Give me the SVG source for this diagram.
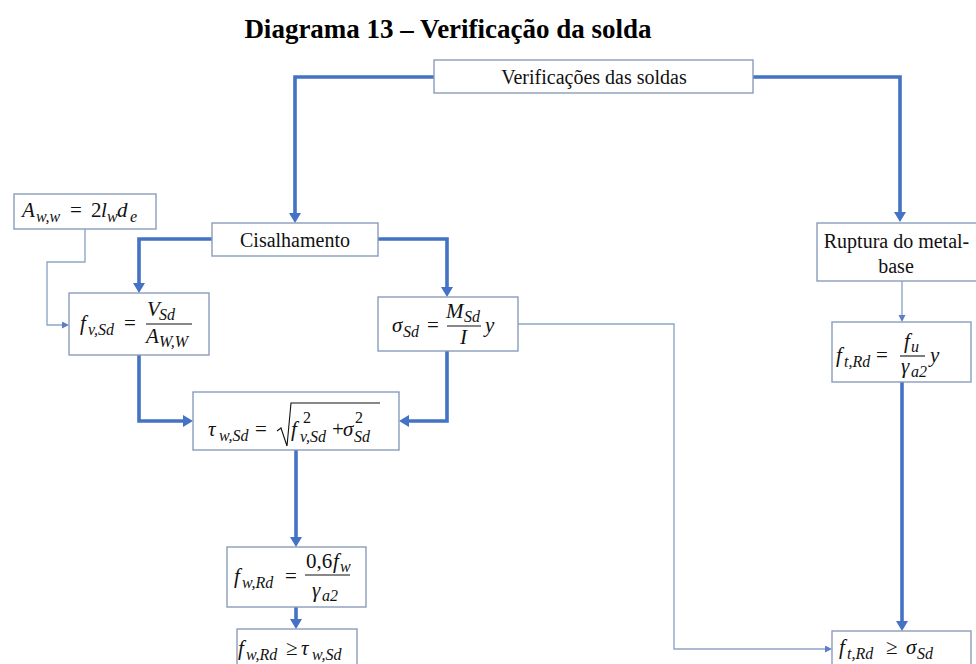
<svg xmlns="http://www.w3.org/2000/svg" width="976" height="664" viewBox="0 0 976 664">
  <defs>
    <marker id="arrow-thick" markerUnits="userSpaceOnUse" markerWidth="11" markerHeight="12" refX="3" refY="6" orient="auto">
      <path d="M0,0 L10,6 L0,12 z" fill="#4472C4"/>
    </marker>
    <marker id="arrow-thin" markerUnits="userSpaceOnUse" markerWidth="8" markerHeight="8" refX="2" refY="3.5" orient="auto">
      <path d="M0,0 L7,3.5 L0,7 z" fill="#5b7fc4"/>
    </marker>
    <style>
      .box { fill: #ffffff; stroke: #8a9cba; stroke-width: 1.4; }
      .thick { fill: none; stroke: #4472C4; stroke-width: 3.6; marker-end: url(#arrow-thick); }
      .thin { fill: none; stroke: #8fa6c8; stroke-width: 1.4; marker-end: url(#arrow-thin); }
      .label { font-family: "Liberation Serif", "DejaVu Serif", serif; font-size: 20px; fill: #111; }
      .math { font-family: "Liberation Serif", "DejaVu Serif", serif; font-size: 21px; font-style: italic; fill: #111; }
      .up { font-style: normal; }
      .sub { font-size: 16px; }
      .bar { stroke: #111; stroke-width: 1.1; fill: none; }
      .title { font-family: "Liberation Serif", "DejaVu Serif", serif; font-size: 27px; font-weight: bold; fill: #000; }
    </style>
  </defs>

  <rect width="976" height="664" fill="#ffffff"/>

  <text class="title" x="448" y="38" text-anchor="middle">Diagrama 13 – Verificação da solda</text>

  <!-- connectors -->
  <g id="connectors">
    <path class="thick" d="M434,77 H295 V216"/>
    <path class="thick" d="M753,77 H900 V215"/>
    <path class="thick" d="M212,239 H139 V286"/>
    <path class="thick" d="M378,239 H447 V290"/>
    <path class="thick" d="M139,355 V421 H186"/>
    <path class="thick" d="M447,351 V421 H406"/>
    <path class="thick" d="M296,450 V540"/>
    <path class="thick" d="M296,607 V622"/>
    <path class="thick" d="M902,382 V624"/>
    <path class="thin" d="M85,229 V262 H47 V325 H64"/>
    <path class="thin" d="M902,281 V317"/>
    <path class="thin" d="M518,324 H674 V649 H827"/>
  </g>

  <!-- nodes -->
  <g id="node-verificacoes">
    <rect class="box" x="434" y="60" width="319" height="33"/>
    <text class="label" x="594" y="84" text-anchor="middle">Verificações das soldas</text>
  </g>

  <g id="node-aww">
    <rect class="box" x="14" y="194" width="142" height="35"/>
    <text class="math">
      <tspan x="22" y="217">A</tspan><tspan class="sub" x="36" y="222">w,w</tspan>
      <tspan class="up" x="70" y="217">=</tspan>
      <tspan class="up" x="91" y="217">2</tspan><tspan x="101" y="217">l</tspan><tspan class="sub" x="107" y="222">w</tspan>
      <tspan x="117" y="217">d</tspan><tspan class="sub" x="130" y="222">e</tspan>
    </text>
  </g>

  <g id="node-cisalhamento">
    <rect class="box" x="212" y="223" width="166" height="33"/>
    <text class="label" x="295" y="247" text-anchor="middle">Cisalhamento</text>
  </g>

  <g id="node-fvsd">
    <rect class="box" x="69" y="293" width="140" height="62"/>
    <text class="math">
      <tspan x="80" y="330">f</tspan><tspan class="sub" x="88" y="335">v,Sd</tspan>
      <tspan class="up" x="124" y="330">=</tspan>
      <tspan x="147" y="316">V</tspan><tspan class="sub" x="159" y="320">Sd</tspan>
      <tspan x="146" y="343">A</tspan><tspan class="sub" x="159" y="347">W,W</tspan>
    </text>
    <line class="bar" x1="146" y1="324" x2="192" y2="324"/>
  </g>

  <g id="node-sigmasd">
    <rect class="box" x="378" y="297" width="140" height="54"/>
    <text class="math">
      <tspan x="392" y="332">σ</tspan><tspan class="sub" x="403" y="337">Sd</tspan>
      <tspan class="up" x="427" y="332">=</tspan>
      <tspan x="446" y="318">M</tspan><tspan class="sub" x="464" y="322">Sd</tspan>
      <tspan x="460" y="344">I</tspan>
      <tspan x="485" y="332">y</tspan>
    </text>
    <line class="bar" x1="447" y1="326" x2="481" y2="326"/>
  </g>

  <g id="node-tau">
    <rect class="box" x="193" y="392" width="206" height="58"/>
    <text class="math">
      <tspan x="208" y="436">τ</tspan><tspan class="sub" x="219" y="441">w,Sd</tspan>
      <tspan class="up" x="255" y="436">=</tspan>
      <tspan x="291" y="436">f</tspan><tspan class="sub up" x="303" y="423">2</tspan><tspan class="sub" x="300" y="442">v,Sd</tspan>
      <tspan class="up" x="332" y="436">+</tspan>
      <tspan x="343" y="436">σ</tspan><tspan class="sub up" x="355" y="423">2</tspan><tspan class="sub" x="354" y="442">Sd</tspan>
    </text>
    <path class="bar" d="M277,431 L281,428 L287,446 L291,403 H380"/>
  </g>

  <g id="node-fwrd">
    <rect class="box" x="227" y="547" width="139" height="60"/>
    <text class="math">
      <tspan x="234" y="583">f</tspan><tspan class="sub" x="242" y="588">w,Rd</tspan>
      <tspan class="up" x="285" y="583">=</tspan>
      <tspan class="up" x="306" y="568">0,6</tspan><tspan x="333" y="568">f</tspan><tspan class="sub" x="340" y="572">w</tspan>
      <tspan x="312" y="597">γ</tspan><tspan class="sub" x="322" y="601">a2</tspan>
    </text>
    <line class="bar" x1="305" y1="575" x2="350" y2="575"/>
  </g>

  <g id="node-fwrd-check">
    <rect class="box" x="237" y="629" width="120" height="44"/>
    <text class="math">
      <tspan x="238" y="655">f</tspan><tspan class="sub" x="246" y="660">w,Rd</tspan>
      <tspan class="up" x="286" y="655">≥</tspan>
      <tspan x="301" y="655">τ</tspan><tspan class="sub" x="312" y="660">w,Sd</tspan>
    </text>
  </g>

  <g id="node-ruptura">
    <rect class="box" x="817" y="223" width="160" height="58"/>
    <text class="label" text-anchor="middle">
      <tspan x="899" y="248">Ruptura do metal-</tspan>
      <tspan x="896" y="273">base</tspan>
    </text>
  </g>

  <g id="node-ftrd">
    <rect class="box" x="832" y="322" width="139" height="60"/>
    <text class="math">
      <tspan x="836" y="362">f</tspan><tspan class="sub" x="844" y="367">t,Rd</tspan>
      <tspan class="up" x="876" y="362">=</tspan>
      <tspan x="904" y="348">f</tspan><tspan class="sub" x="911" y="352">u</tspan>
      <tspan x="901" y="373">γ</tspan><tspan class="sub" x="911" y="377">a2</tspan>
      <tspan x="930" y="362">y</tspan>
    </text>
    <line class="bar" x1="900" y1="356" x2="925" y2="356"/>
  </g>

  <g id="node-ftrd-check">
    <rect class="box" x="832" y="631" width="139" height="44"/>
    <text class="math">
      <tspan x="839" y="654">f</tspan><tspan class="sub" x="847" y="659">t,Rd</tspan>
      <tspan class="up" x="886" y="654">≥</tspan>
      <tspan x="906" y="654">σ</tspan><tspan class="sub" x="917" y="659">Sd</tspan>
    </text>
  </g>
</svg>
